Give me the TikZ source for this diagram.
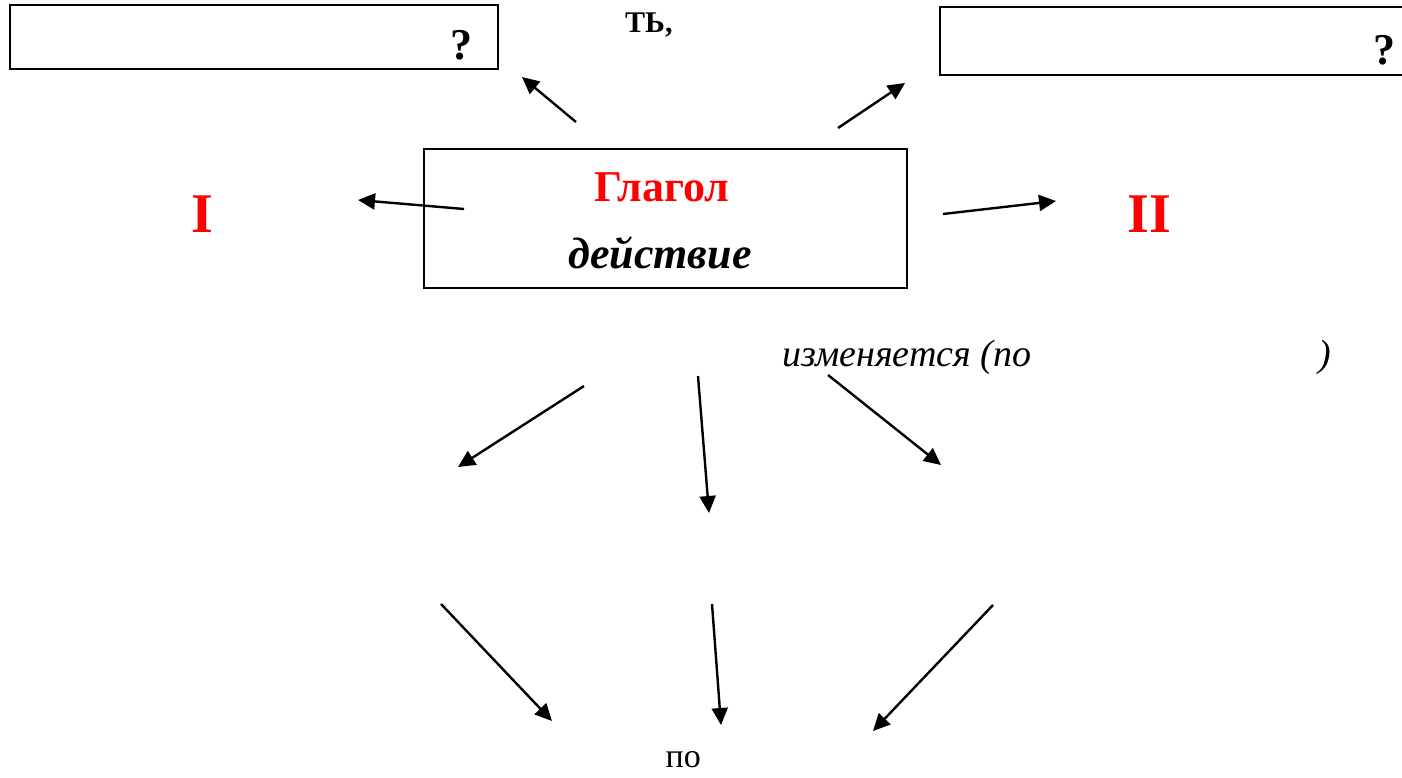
\documentclass[tikz,border=0pt]{standalone}
\usepackage{fontspec}
\setmainfont{Liberation Serif}
\usetikzlibrary{arrows.meta}

\newcommand{\fsz}[1]{\fontsize{#1}{#1}\selectfont}

\begin{document}
\begin{tikzpicture}[x = 1pt, y = -1pt, > = {Triangle[length = 17pt, width = 16pt]}]

	\useasboundingbox (0, 0) rectangle (1402, 778);

	\tikzset{
		box/.style = {draw, line width = 1.8pt, inner sep = 0pt},
		word/.style = {anchor = base, inner sep = 0pt}
	}

	% Question boxes and the verb box

	\node [box, minimum width = 488pt, minimum height = 64pt] (askleft) at (254, 37) {};
	\node [box, minimum width = 480pt, minimum height = 68pt] (askright) at (1180, 41) {};
	\node [box, minimum width = 483pt, minimum height = 139pt] (verb) at (665.5, 218.5) {};

	% Texts

	\node [word] (qleft) at (461, 60) {\fsz{44}\bfseries ?};
	\node [word] (qright) at (1384, 65) {\fsz{44}\bfseries ?};
	\node [word, anchor = base west] (ending) at (625, 33) {\fsz{30}\bfseries ТЬ,};

	\node [word, red] (name) at (662, 202) {\fsz{44}\bfseries Глагол};
	\node [word] (meaning) at (660, 268) {\fsz{44}\bfseries\itshape действие};

	\node [word, red] (first) at (202, 232) {\fsz{56}\bfseries I};
	\node [word, red] (second) at (1149, 232) {\fsz{56}\bfseries II};

	\node [word, anchor = base west] (changes) at (782, 366) {\fsz{38}\itshape изменяется (по};
	\node [word] (close) at (1325, 366) {\fsz{38}\itshape )};

	\node [word] (by) at (679, 767) {\fsz{34} по};

	% Arrow ends

	\coordinate (a1) at (576, 122);  \coordinate (b1) at (522, 77);
	\coordinate (a2) at (838, 128);  \coordinate (b2) at (905, 83);
	\coordinate (a3) at (464, 209);  \coordinate (b3) at (358, 200);
	\coordinate (a4) at (943, 214);  \coordinate (b4) at (1056, 201);
	\coordinate (a5) at (584, 386);  \coordinate (b5) at (458, 467);
	\coordinate (a6) at (698, 376);  \coordinate (b6) at (709, 513);
	\coordinate (a7) at (828, 375);  \coordinate (b7) at (941, 465);
	\coordinate (a8) at (441, 604);  \coordinate (b8) at (552, 721);
	\coordinate (a9) at (712, 604);  \coordinate (b9) at (721, 725);
	\coordinate (a10) at (993, 605); \coordinate (b10) at (873, 731);

	% Arrows

	\begin{scope}[->, line width = 2.4pt]

		\foreach \i in {1, ..., 10}
			\draw (a\i) -- (b\i);

	\end{scope}

\end{tikzpicture}
\end{document}
